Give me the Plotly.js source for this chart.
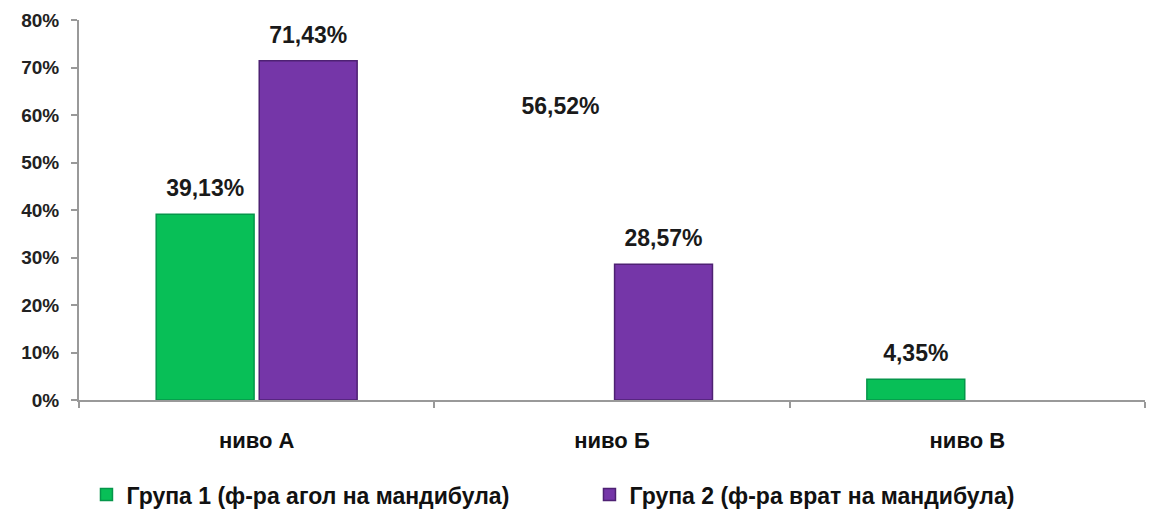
<!DOCTYPE html>
<html>
<head>
<meta charset="utf-8">
<script src="https://cdn.plot.ly/plotly-3.0.1.min.js"></script>
<style>
  html, body { margin: 0; padding: 0; background: #fff; }
  #chart { width: 1153px; height: 511px; }
</style>
</head>
<body>
<div id="chart"></div>
<script>
// Categories and series values (percent)
const levels = ['ниво А', 'ниво Б', 'ниво В'];
const group1Name = 'Група 1 (ф-ра агол на мандибула)';
const group2Name = 'Група 2 (ф-ра врат на мандибула)';
const group1Values = [39.13, 56.52, 4.35];
const group2Values = [71.43, 28.57, 0];
const yTickValues = [0, 10, 20, 30, 40, 50, 60, 70, 80];
const yTickLabels = ['0%', '10%', '20%', '30%', '40%', '50%', '60%', '70%', '80%'];

const green = '#08BF57';
const purple = '#7536A8';
const fontFamily = '"Liberation Sans", Arial, sans-serif';

function pct(v) { return v.toFixed(2).replace('.', ',') + '%'; }

// the "ниво Б" bar of group 1 is drawn in white, only its label shows
const g1Colors = [green, '#FFFFFF', green];
const g1Lines = ['#05964A', '#FFFFFF', '#05964A'];
// a zero bar gets no outline
const g2LineWidths = group2Values.map(v => (v > 0 ? 1.5 : 0));

const labelFont = { family: fontFamily, size: 23, color: '#1a1a1a', weight: 'bold' };

const traces = [
  {
    type: 'bar', name: group1Name, x: levels, y: group1Values,
    offsetgroup: 'g1',
    marker: { color: g1Colors, line: { color: g1Lines, width: 1.5 } },
    hoverinfo: 'skip'
  },
  {
    type: 'bar', name: group2Name, x: levels, y: group2Values,
    offsetgroup: 'g2',
    marker: { color: purple, line: { color: '#4E2173', width: g2LineWidths } },
    hoverinfo: 'skip'
  },
  // value labels placed over each bar of group 1
  {
    type: 'scatter', mode: 'markers+text', x: levels, y: group1Values,
    offsetgroup: 'g1', showlegend: false, cliponaxis: false,
    marker: { size: 18, opacity: 0 },
    text: group1Values.map(pct), textposition: 'top center',
    textfont: labelFont, hoverinfo: 'skip'
  },
  // value labels for group 2 (the empty "ниво В" bar has none)
  {
    type: 'scatter', mode: 'markers+text', x: levels.slice(0, 2), y: group2Values.slice(0, 2),
    offsetgroup: 'g2', showlegend: false, cliponaxis: false,
    marker: { size: 18, opacity: 0 },
    text: group2Values.slice(0, 2).map(pct), textposition: 'top center',
    textfont: labelFont, hoverinfo: 'skip'
  }
];

const layout = {
  width: 1153, height: 511,
  margin: { l: 79, r: 8, t: 20, b: 111, autoexpand: false },
  paper_bgcolor: '#fff', plot_bgcolor: '#fff',
  barmode: 'group', scattermode: 'group',
  bargap: 0.42, bargroupgap: 0.05,
  showlegend: true,
  legend: {
    orientation: 'h', xref: 'container', x: 0.075, xanchor: 'left',
    yref: 'container', y: 0.032, yanchor: 'middle',
    font: { family: fontFamily, size: 23, color: '#111', weight: 'bold' },
    itemwidth: 30, entrywidth: 458, traceorder: 'normal'
  },
  xaxis: {
    type: 'category', tickson: 'boundaries', ticks: 'outside', ticklen: 6,
    tickcolor: '#999', tickwidth: 2,
    showline: true, linecolor: '#999', linewidth: 2,
    showgrid: false, zeroline: false,
    ticklabelstandoff: 20,
    tickfont: { family: fontFamily, size: 22, color: '#111', weight: 'bold' }
  },
  yaxis: {
    range: [0, 80], tickvals: yTickValues, ticktext: yTickLabels,
    ticks: 'outside', ticklen: 6, tickcolor: '#999', tickwidth: 2,
    showline: true, linecolor: '#999', linewidth: 2,
    showgrid: false, zeroline: false,
    ticklabelstandoff: 8,
    tickfont: { family: fontFamily, size: 19, color: '#222', weight: 'bold' }
  }
};

Plotly.newPlot('chart', traces, layout, { displayModeBar: false, staticPlot: true });
</script>
</body>
</html>
